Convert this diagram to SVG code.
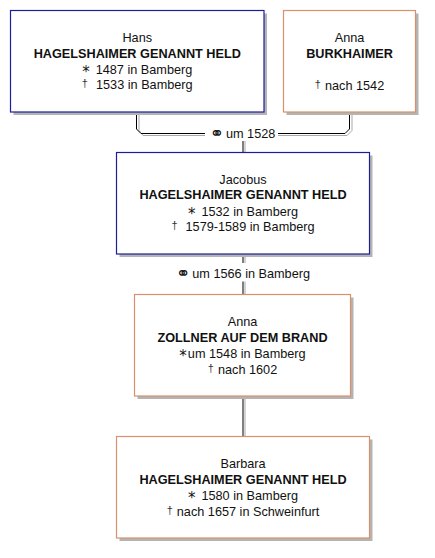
<svg xmlns="http://www.w3.org/2000/svg" width="435" height="558" viewBox="0 0 435 558">
<style>
text{font-family:"Liberation Sans",Arial,sans-serif;font-size:12.7px;fill:#111;text-anchor:middle}
.b{font-weight:bold}
.ast{font-family:"DejaVu Sans",sans-serif;font-size:15px}
.dag{font-size:11px;fill:#333}
.mar{font-family:"DejaVu Sans",sans-serif;font-size:17px}
.sh{fill:#b4b4b4}
.m{fill:#fff;stroke:#1e1e98;stroke-width:1.2}
.f{fill:#fff;stroke:#d9916b;stroke-width:1.2}
.ln{fill:none;stroke:#000;stroke-width:1}
.lns{fill:none;stroke:#a8a8a8;stroke-width:1}
</style>
<g id="connectors">
<path class="lns" d="M139,112 V130.5 L143,135.5 H205"/>
<path class="ln" d="M136.5,112 V129 L141,133.5 H205"/>
<path class="lns" d="M352,112 V130.5 L347,135.5 H278"/>
<path class="ln" d="M349.5,112 V129 L345,133.5 H278"/>
<text x="242.5" y="137.5"><tspan class="mar" dy="1">⚭</tspan><tspan dy="-1" dx="2">um 1528</tspan></text>
<path class="lns" d="M245,141 V152 M245,254 V263 M245,281.5 V294 M245,396 V436"/>
<path class="ln" d="M243,141 V152.5 M243,254 V263 M243,281.5 V294.5 M243,396 V436.5"/>
<text x="243" y="277.5"><tspan class="mar" dy="1">⚭</tspan><tspan dy="-1" dx="2">um 1566 in Bamberg</tspan></text>
</g>
<g id="hans">
<rect class="sh" x="13.5" y="13.5" width="253.5" height="101.5"/>
<rect class="m" x="10.5" y="10.5" width="253.5" height="101.5"/>
<text x="137.25" y="42">Hans</text>
<text class="b" x="137.25" y="57.5">HAGELSHAIMER GENANNT HELD</text>
<text x="137.25" y="74"><tspan class="ast" dy="3">*</tspan><tspan dy="-3" dx="6">1487 in Bamberg</tspan></text>
<text x="137.25" y="89.3"><tspan class="dag" dy="-2">†</tspan><tspan dy="2" dx="8">1533 in Bamberg</tspan></text>
</g>
<g id="anna-burkhaimer">
<rect class="sh" x="286.5" y="13.5" width="132" height="101.5"/>
<rect class="f" x="283.5" y="10.5" width="132" height="101.5"/>
<text x="349.5" y="42">Anna</text>
<text class="b" x="349.5" y="57.5">BURKHAIMER</text>
<text x="349.5" y="90"><tspan class="dag" dy="-2">†</tspan><tspan dy="2" dx="4">nach 1542</tspan></text>
</g>
<g id="jacobus">
<rect class="sh" x="119.5" y="155.5" width="253" height="101.5"/>
<rect class="m" x="116.5" y="152.5" width="253" height="101.5"/>
<text x="243" y="184">Jacobus</text>
<text class="b" x="243" y="199.3">HAGELSHAIMER GENANNT HELD</text>
<text x="243" y="216"><tspan class="ast" dy="3">*</tspan><tspan dy="-3" dx="6">1532 in Bamberg</tspan></text>
<text x="243" y="230.7"><tspan class="dag" dy="-2">†</tspan><tspan dy="2" dx="8">1579-1589 in Bamberg</tspan></text>
</g>
<g id="anna-zollner">
<rect class="sh" x="137.5" y="297.5" width="216" height="101.5"/>
<rect class="f" x="134.5" y="294.5" width="216" height="101.5"/>
<text x="242.5" y="326">Anna</text>
<text class="b" x="242.5" y="341.5">ZOLLNER AUF DEM BRAND</text>
<text x="242.5" y="358"><tspan class="ast" dy="3">*</tspan><tspan dy="-3" dx="1">um 1548 in Bamberg</tspan></text>
<text x="242.5" y="373.5"><tspan class="dag" dy="-2">†</tspan><tspan dy="2" dx="4">nach 1602</tspan></text>
</g>
<g id="barbara">
<rect class="sh" x="119.5" y="439.5" width="253" height="101.5"/>
<rect class="f" x="116.5" y="436.5" width="253" height="101.5"/>
<text x="243" y="468">Barbara</text>
<text class="b" x="243" y="483.5">HAGELSHAIMER GENANNT HELD</text>
<text x="243" y="500"><tspan class="ast" dy="3">*</tspan><tspan dy="-3" dx="6">1580 in Bamberg</tspan></text>
<text x="243" y="515.5"><tspan class="dag" dy="-2">†</tspan><tspan dy="2" dx="4">nach 1657 in Schweinfurt</tspan></text>
</g>
</svg>
